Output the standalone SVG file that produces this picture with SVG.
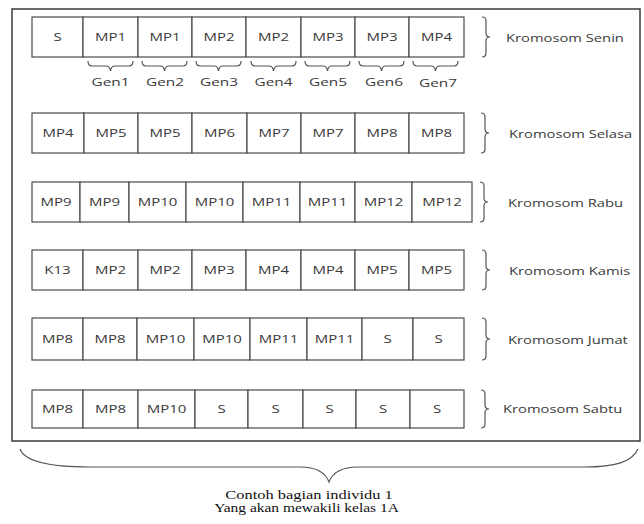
<svg xmlns="http://www.w3.org/2000/svg" width="644" height="524" viewBox="0 0 644 524">
<style>
.frame{fill:none;stroke:#3a3a3a;stroke-width:1.5}
.cell{fill:#fff;stroke:#4a4a4a;stroke-width:1.2}
.br{fill:none;stroke:#555;stroke-width:1.2}
.c{font-family:"Open Sans","DejaVu Sans",sans-serif;font-size:10px;fill:#3a3a3a;text-anchor:middle}
.g{font-family:"Open Sans","DejaVu Sans",sans-serif;font-size:11px;fill:#3a3a3a;text-anchor:middle}
.k{font-family:"Open Sans","DejaVu Sans",sans-serif;font-size:11px;fill:#3a3a3a}
.t{font-family:"Liberation Serif","Times New Roman",serif;font-size:12px;fill:#111;text-anchor:middle}
</style>
<rect width="644" height="524" fill="#fff"/>
<rect class="frame" x="12" y="9" width="628" height="432"/>

<g id="senin">
<rect class="cell" x="32" y="17" width="51" height="40"/><rect class="cell" x="83" y="17" width="55" height="40"/><rect class="cell" x="138" y="17" width="54" height="40"/><rect class="cell" x="192" y="17" width="54" height="40"/><rect class="cell" x="246" y="17" width="55" height="40"/><rect class="cell" x="301" y="17" width="54" height="40"/><rect class="cell" x="355" y="17" width="54" height="40"/><rect class="cell" x="409" y="17" width="55" height="40"/>
<text class="c" transform="translate(57.5,41) scale(1.5,1)">S</text>
<text class="c" transform="translate(110.5,41) scale(1.5,1)">MP1</text>
<text class="c" transform="translate(165,41) scale(1.5,1)">MP1</text>
<text class="c" transform="translate(219,41) scale(1.5,1)">MP2</text>
<text class="c" transform="translate(273.5,41) scale(1.5,1)">MP2</text>
<text class="c" transform="translate(328,41) scale(1.5,1)">MP3</text>
<text class="c" transform="translate(382,41) scale(1.5,1)">MP3</text>
<text class="c" transform="translate(436.5,41) scale(1.5,1)">MP4</text>
<path class="br" d="M482,17 Q486,17 486,21 L486,33 Q486,37 490,37 Q486,37 486,41 L486,53 Q486,57 482,57"/>
<text class="k" transform="translate(506,42) scale(1.34,1)">Kromosom Senin</text>
</g>

<g id="gen">
<path class="br" d="M88,61 Q88,66 92,66 L106,66 Q110,66 110.5,71 Q111,66 115,66 L129,66 Q133,66 133,61"/>
<path class="br" d="M142,61 Q142,66 146,66 L160,66 Q164,66 164.5,71 Q165,66 169,66 L183,66 Q187,66 187,61"/>
<path class="br" d="M196,61 Q196,66 200,66 L214,66 Q218,66 218.5,71 Q219,66 223,66 L237,66 Q241,66 241,61"/>
<path class="br" d="M251,61 Q251,66 255,66 L269,66 Q273,66 273.5,71 Q274,66 278,66 L292,66 Q296,66 296,61"/>
<path class="br" d="M305,61 Q305,66 309,66 L323,66 Q327,66 327.5,71 Q328,66 332,66 L346,66 Q350,66 350,61"/>
<path class="br" d="M359,61 Q359,66 363,66 L377,66 Q381,66 381.5,71 Q382,66 386,66 L400,66 Q404,66 404,61"/>
<path class="br" d="M413,61 Q413,66 417,66 L431,66 Q435,66 435.5,71 Q436,66 440,66 L454,66 Q458,66 458,61"/>
<text class="g" transform="translate(110.5,86) scale(1.4,1)">Gen1</text>
<text class="g" transform="translate(165,86) scale(1.4,1)">Gen2</text>
<text class="g" transform="translate(219,86) scale(1.4,1)">Gen3</text>
<text class="g" transform="translate(273.5,86) scale(1.4,1)">Gen4</text>
<text class="g" transform="translate(328,86) scale(1.4,1)">Gen5</text>
<text class="g" transform="translate(384,86) scale(1.4,1)">Gen6</text>
<text class="g" transform="translate(438,87) scale(1.4,1)">Gen7</text>
</g>

<g id="selasa">
<rect class="cell" x="32" y="113" width="52" height="40"/><rect class="cell" x="84" y="113" width="54" height="40"/><rect class="cell" x="138" y="113" width="54" height="40"/><rect class="cell" x="192" y="113" width="55" height="40"/><rect class="cell" x="247" y="113" width="54" height="40"/><rect class="cell" x="301" y="113" width="54" height="40"/><rect class="cell" x="355" y="113" width="54" height="40"/><rect class="cell" x="409" y="113" width="55" height="40"/>
<text class="c" transform="translate(58,136.5) scale(1.5,1)">MP4</text>
<text class="c" transform="translate(111,136.5) scale(1.5,1)">MP5</text>
<text class="c" transform="translate(165,136.5) scale(1.5,1)">MP5</text>
<text class="c" transform="translate(219.5,136.5) scale(1.5,1)">MP6</text>
<text class="c" transform="translate(274,136.5) scale(1.5,1)">MP7</text>
<text class="c" transform="translate(328,136.5) scale(1.5,1)">MP7</text>
<text class="c" transform="translate(382,136.5) scale(1.5,1)">MP8</text>
<text class="c" transform="translate(436.5,136.5) scale(1.5,1)">MP8</text>
<path class="br" d="M481,113 Q485,113 485,117 L485,129 Q485,133 489,133 Q485,133 485,137 L485,149 Q485,153 481,153"/>
<text class="k" transform="translate(509,138) scale(1.34,1)">Kromosom Selasa</text>
</g>

<g id="rabu">
<rect class="cell" x="32" y="182" width="48" height="40"/><rect class="cell" x="80" y="182" width="49" height="40"/><rect class="cell" x="129" y="182" width="57" height="40"/><rect class="cell" x="186" y="182" width="57" height="40"/><rect class="cell" x="243" y="182" width="57" height="40"/><rect class="cell" x="300" y="182" width="55" height="40"/><rect class="cell" x="355" y="182" width="57" height="40"/><rect class="cell" x="412" y="182" width="60" height="40"/>
<text class="c" transform="translate(56,205.5) scale(1.5,1)">MP9</text>
<text class="c" transform="translate(104.5,205.5) scale(1.5,1)">MP9</text>
<text class="c" transform="translate(157.5,205.5) scale(1.5,1)">MP10</text>
<text class="c" transform="translate(214.5,205.5) scale(1.5,1)">MP10</text>
<text class="c" transform="translate(271.5,205.5) scale(1.5,1)">MP11</text>
<text class="c" transform="translate(327.5,205.5) scale(1.5,1)">MP11</text>
<text class="c" transform="translate(383.5,205.5) scale(1.5,1)">MP12</text>
<text class="c" transform="translate(442,205.5) scale(1.5,1)">MP12</text>
<path class="br" d="M480,182 Q484,182 484,186 L484,198 Q484,202 488,202 Q484,202 484,206 L484,218 Q484,222 480,222"/>
<text class="k" transform="translate(508,207) scale(1.34,1)">Kromosom Rabu</text>
</g>

<g id="kamis">
<rect class="cell" x="32" y="250" width="51" height="40"/><rect class="cell" x="83" y="250" width="55" height="40"/><rect class="cell" x="138" y="250" width="54" height="40"/><rect class="cell" x="192" y="250" width="54" height="40"/><rect class="cell" x="246" y="250" width="55" height="40"/><rect class="cell" x="301" y="250" width="54" height="40"/><rect class="cell" x="355" y="250" width="54" height="40"/><rect class="cell" x="409" y="250" width="55" height="40"/>
<text class="c" transform="translate(57.5,273.5) scale(1.5,1)">K13</text>
<text class="c" transform="translate(110.5,273.5) scale(1.5,1)">MP2</text>
<text class="c" transform="translate(165,273.5) scale(1.5,1)">MP2</text>
<text class="c" transform="translate(219,273.5) scale(1.5,1)">MP3</text>
<text class="c" transform="translate(273.5,273.5) scale(1.5,1)">MP4</text>
<text class="c" transform="translate(328,273.5) scale(1.5,1)">MP4</text>
<text class="c" transform="translate(382,273.5) scale(1.5,1)">MP5</text>
<text class="c" transform="translate(436.5,273.5) scale(1.5,1)">MP5</text>
<path class="br" d="M482,250 Q486,250 486,254 L486,266 Q486,270 490,270 Q486,270 486,274 L486,286 Q486,290 482,290"/>
<text class="k" transform="translate(509,275) scale(1.34,1)">Kromosom Kamis</text>
</g>

<g id="jumat">
<rect class="cell" x="32" y="318" width="51" height="42"/><rect class="cell" x="83" y="318" width="54" height="42"/><rect class="cell" x="137" y="318" width="57" height="42"/><rect class="cell" x="194" y="318" width="56" height="42"/><rect class="cell" x="250" y="318" width="57" height="42"/><rect class="cell" x="307" y="318" width="55" height="42"/><rect class="cell" x="362" y="318" width="51" height="42"/><rect class="cell" x="413" y="318" width="51" height="42"/>
<text class="c" transform="translate(57.5,342.5) scale(1.5,1)">MP8</text>
<text class="c" transform="translate(110,342.5) scale(1.5,1)">MP8</text>
<text class="c" transform="translate(165.5,342.5) scale(1.5,1)">MP10</text>
<text class="c" transform="translate(222,342.5) scale(1.5,1)">MP10</text>
<text class="c" transform="translate(278.5,342.5) scale(1.5,1)">MP11</text>
<text class="c" transform="translate(334.5,342.5) scale(1.5,1)">MP11</text>
<text class="c" transform="translate(387.5,342.5) scale(1.5,1)">S</text>
<text class="c" transform="translate(438.5,342.5) scale(1.5,1)">S</text>
<path class="br" d="M482,318 Q486,318 486,322 L486,335 Q486,339 490,339 Q486,339 486,343 L486,356 Q486,360 482,360"/>
<text class="k" transform="translate(508,344) scale(1.34,1)">Kromosom Jumat</text>
</g>

<g id="sabtu">
<rect class="cell" x="32" y="390" width="51" height="38"/><rect class="cell" x="83" y="390" width="55" height="38"/><rect class="cell" x="138" y="390" width="57" height="38"/><rect class="cell" x="195" y="390" width="53" height="38"/><rect class="cell" x="248" y="390" width="55" height="38"/><rect class="cell" x="303" y="390" width="53" height="38"/><rect class="cell" x="356" y="390" width="54" height="38"/><rect class="cell" x="410" y="390" width="54" height="38"/>
<text class="c" transform="translate(57.5,412.5) scale(1.5,1)">MP8</text>
<text class="c" transform="translate(110.5,412.5) scale(1.5,1)">MP8</text>
<text class="c" transform="translate(166.5,412.5) scale(1.5,1)">MP10</text>
<text class="c" transform="translate(221.5,412.5) scale(1.5,1)">S</text>
<text class="c" transform="translate(275.5,412.5) scale(1.5,1)">S</text>
<text class="c" transform="translate(329.5,412.5) scale(1.5,1)">S</text>
<text class="c" transform="translate(383,412.5) scale(1.5,1)">S</text>
<text class="c" transform="translate(437,412.5) scale(1.5,1)">S</text>
<path class="br" d="M481,390 Q485,390 485,394 L485,405 Q485,409 489,409 Q485,409 485,413 L485,424 Q485,428 481,428"/>
<text class="k" transform="translate(503,413) scale(1.34,1)">Kromosom Sabtu</text>
</g>

<g id="individu">
<path class="br" d="M20,449 C25,462 50,467 90,467 L300,467 C318,467 326,474 329,482 C332,474 340,467 358,467 L585,467 C615,467 632,462 638,449"/>
<text class="t" transform="translate(309,499) scale(1.37,1)">Contoh bagian individu 1</text>
<text class="t" transform="translate(306.5,512) scale(1.29,1)">Yang akan mewakili kelas 1A</text>
</g>
</svg>
